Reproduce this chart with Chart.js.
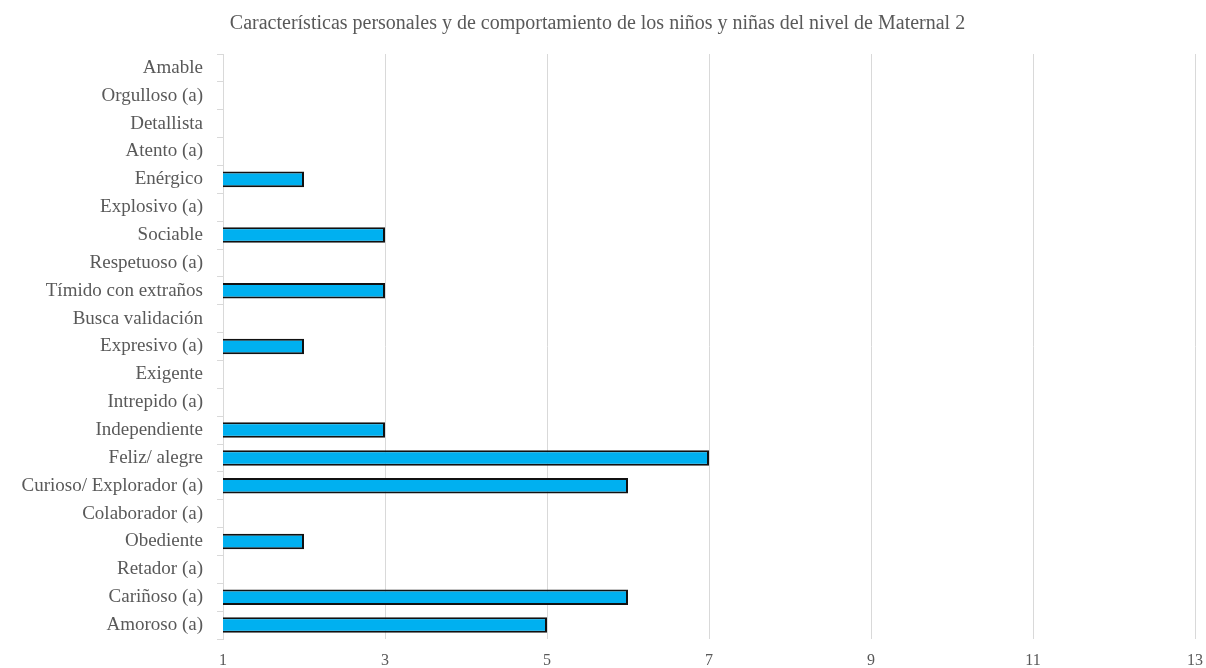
<!DOCTYPE html>
<html>
<head>
<meta charset="utf-8">
<script src="https://cdn.jsdelivr.net/npm/chart.js@4/dist/chart.umd.min.js"></script>
<style>
  html, body { margin: 0; padding: 0; background: #fff; }
</style>
</head>
<body>
<canvas id="grafico" width="1206" height="668"></canvas>
<script>
// Características (de arriba hacia abajo)
const caracteristicas = [
    'Amable', 'Orgulloso (a)', 'Detallista', 'Atento (a)', 'Enérgico',
    'Explosivo (a)', 'Sociable', 'Respetuoso (a)', 'Tímido con extraños',
    'Busca validación', 'Expresivo (a)', 'Exigente', 'Intrepido (a)',
    'Independiente', 'Feliz/ alegre', 'Curioso/ Explorador (a)',
    'Colaborador (a)', 'Obediente', 'Retador (a)', 'Cariñoso (a)', 'Amoroso (a)'
];

// Cantidad de niños por característica (vacío = sin barra)
const cantidades = [
    null, null, null, null, 2,
    null, 3, null, 3,
    null, 2, null, null,
    3, 7, 6,
    null, 2, null, 6, 5
];

const titulo = 'Características personales y de comportamiento de los niños y niñas del nivel de Maternal 2';

const gris = '#595959';
const lineas = '#d9d9d9';
const fuente = "'Liberation Serif', 'Times New Roman', serif";

const ctx = document.getElementById('grafico').getContext('2d');

new Chart(ctx, {
    type: 'bar',
    data: {
        labels: caracteristicas,
        datasets: [{
            data: cantidades,
            backgroundColor: '#00b0f0',
            borderColor: '#111111',
            borderWidth: 2,
            borderSkipped: false,
            categoryPercentage: 1,
            barPercentage: 0.56
        }]
    },
    options: {
        indexAxis: 'y',
        responsive: false,
        animation: false,
        layout: { padding: { left: 0, right: 11, top: 0, bottom: 0 } },
        plugins: {
            legend: { display: false },
            tooltip: { enabled: false },
            title: {
                display: true,
                text: titulo,
                color: gris,
                font: { family: fuente, size: 20, weight: 'normal' },
                padding: { top: 12, bottom: 18 }
            }
        },
        scales: {
            x: {
                min: 1,
                max: 13,
                afterFit: (scale) => {
                    scale.height = 29;
                    scale.paddingLeft = 0;
                    scale.paddingRight = 0;
                },
                ticks: {
                    stepSize: 2,
                    color: gris,
                    font: { family: fuente, size: 16 },
                    padding: 12
                },
                grid: { color: lineas, drawTicks: false },
                border: { display: false }
            },
            y: {
                afterFit: (scale) => { scale.width = 223; },
                ticks: {
                    color: gris,
                    font: { family: fuente, size: 19 },
                    padding: 14,
                    autoSkip: false
                },
                grid: {
                    offset: true,
                    drawOnChartArea: false,
                    color: lineas,
                    tickLength: 6
                },
                border: { display: true, color: lineas }
            }
        }
    }
});
</script>
</body>
</html>
